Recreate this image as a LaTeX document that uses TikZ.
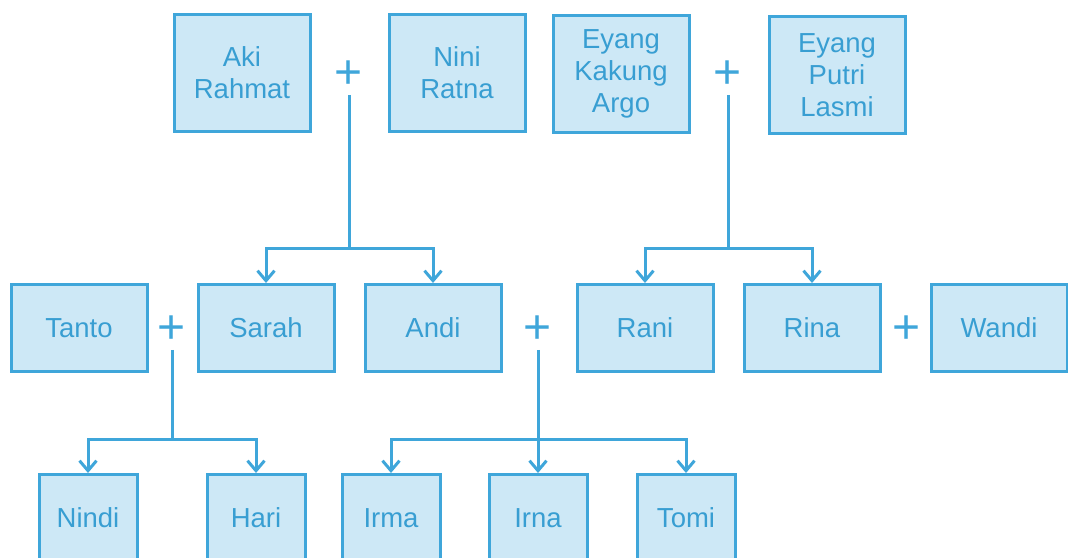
\documentclass[tikz,border=0pt]{standalone}
\usepackage{fontspec}
\setmainfont{Liberation Sans}
\usepackage{tikz}
\definecolor{line}{HTML}{3FA6DA}
\definecolor{boxfill}{HTML}{CDE8F6}
\definecolor{label}{HTML}{389ED2}
\usetikzlibrary{
  arrows.meta,
  positioning
}
\tikzset{
  every picture/.style={line join=miter},
  person/.style={
    draw=line,
    fill=boxfill,
    line width=3pt,
    text=label,
    align=center,
    font=\fontsize{27.5}{32}\selectfont,
    inner sep=0pt,
    minimum width=136pt,
    minimum height=87pt
  },
  elder/.style={person, minimum width=136pt, minimum height=117pt},
  kid/.style={person, minimum width=98pt, minimum height=87pt},
  plus/.style={text=line, font=\fontsize{48}{48}\selectfont, inner sep=0pt, outer sep=6pt, yshift=-2pt},
  link/.style={draw=line, line width=3pt},
  arr/.style={link, -{Straight Barb[length=10pt, width=17pt]}}
}

\begin{document}
\begin{tikzpicture}[x=1pt, y=-1pt]
  \useasboundingbox (0,0) rectangle (1068,557);

  % Grandparents
  \node[elder] (aki) at (242,73) {Aki\\Rahmat};
  \node[plus] (p1) at (349,73) {+};
  \node[elder] (nini) at (457,73) {Nini\\Ratna};
  \node[elder] (kakung) at (621,74) {Eyang\\Kakung\\Argo};
  \node[plus] (p2) at (728,73) {+};
  \node[elder] (putri) at (837,75) {Eyang\\Putri\\Lasmi};

  % Children and spouses
  \node[person] (tanto) at (79,328) {Tanto};
  \node[plus] (p3) at (172,328) {+};
  \node[person] (sarah) at (266,328) {Sarah};
  \node[person] (andi) at (433,328) {Andi};
  \node[plus] (p4) at (538,328) {+};
  \node[person] (rani) at (645,328) {Rani};
  \node[person] (rina) at (812,328) {Rina};
  \node[plus] (p5) at (907,328) {+};
  \node[person] (wandi) at (999,328) {Wandi};

  % Grandchildren
  \node[kid] (nindi) at (88,518) {Nindi};
  \node[kid] (hari) at (256,518) {Hari};
  \node[kid] (irma) at (391,518) {Irma};
  \node[kid] (irna) at (538,518) {Irna};
  \node[kid] (tomi) at (686,518) {Tomi};

  % Descent lines
  \coordinate (j1) at (349,248);
  \coordinate (j2) at (728,248);
  \coordinate (j3) at (172,439);
  \coordinate (j4) at (538,439);

  \draw[link] (p1.south) -- (j1);
  \draw[arr] (j1) -| (sarah.north);
  \draw[arr] (j1) -| (andi.north);

  \draw[link] (p2.south) -- (j2);
  \draw[arr] (j2) -| (rani.north);
  \draw[arr] (j2) -| (rina.north);

  \draw[link] (p3.south) -- (j3);
  \draw[arr] (j3) -| (nindi.north);
  \draw[arr] (j3) -| (hari.north);

  \draw[link] (p4.south) -- (j4);
  \draw[arr] (j4) -| (irma.north);
  \draw[arr] (j4) -- (irna.north);
  \draw[arr] (j4) -| (tomi.north);
\end{tikzpicture}
\end{document}
